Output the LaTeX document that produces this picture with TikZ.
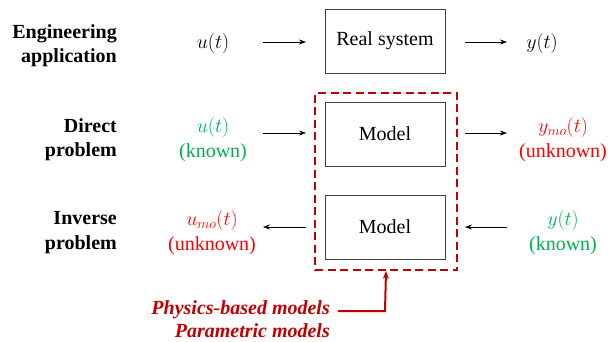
\documentclass[tikz,border=0pt]{standalone}
\usepackage{fix-cm}
\usepackage{fontspec}
\setmainfont{Liberation Serif}
\usetikzlibrary{arrows.meta}
\definecolor{kgreen}{RGB}{0,176,80}
\definecolor{kred}{RGB}{255,0,0}
\definecolor{dred}{RGB}{192,0,0}
\begin{document}
\begin{tikzpicture}[x=1pt,y=-1pt,
  every node/.style={font=\rmfamily\fontsize{20}{25}\selectfont, inner sep=0pt},
  lbl/.style={align=right, anchor=east, font=\rmfamily\fontsize{20}{24.5}\selectfont\bfseries},
  blk/.style={draw=black!75, line width=1pt, minimum width=120pt, minimum height=64pt},
  sig/.style={align=center},
  arr/.style={line width=0.6pt, -{Stealth[length=7pt,width=5pt]}},
  dbox/.style={draw=dred, line width=2pt, dash pattern=on 8pt off 4.5pt},
  darr/.style={draw=dred, line width=2pt, -{Stealth[length=8pt,width=6pt]}}]
\useasboundingbox (0,0) rectangle (608,341);
% row labels
\node[lbl] (l1) at (117,45.5) {Engineering\\application};
\node[lbl] (l2) at (117,139.5) {Direct\\problem};
\node[lbl] (l3) at (117,232.5) {Inverse\\problem};
% row 1
\node (u1) at (213,43) {$u(t)$};
\node[blk] (rs) at (385,41) {Real system};
\node (y1) at (542,43) {$y(t)$};
\coordinate (a1s) at (263,42); \coordinate (a1e) at (306,42);
\coordinate (a2s) at (465,42); \coordinate (a2e) at (507,42);
\draw[arr] (a1s) -- (a1e);
\draw[arr] (a2s) -- (a2e);
% row 2
\node[sig, text=kgreen] (u2) at (213,139.5) {$u(t)$\\(known)};
\node[blk] (m1) at (385,134) {Model};
\node[sig, text=kred] (y2) at (563,139.5) {$y_{mo}(t)$\\(unknown)};
\coordinate (b1s) at (263,133); \coordinate (b1e) at (306,133);
\coordinate (b2s) at (465,133); \coordinate (b2e) at (507,133);
\draw[arr] (b1s) -- (b1e);
\draw[arr] (b2s) -- (b2e);
% row 3
\node[sig, text=kred] (u3) at (212,233) {$u_{mo}(t)$\\(unknown)};
\node[blk] (m2) at (385,227) {Model};
\node[sig, text=kgreen] (y3) at (563,233) {$y(t)$\\(known)};
\coordinate (c1s) at (306,227); \coordinate (c1e) at (263,227);
\coordinate (c2s) at (507,227); \coordinate (c2e) at (465,227);
\draw[arr] (c1s) -- (c1e);
\draw[arr] (c2s) -- (c2e);
% dashed box
\node[dbox, minimum width=142pt, minimum height=177pt] (db) at (386,181.5) {};
% annotation
\node[align=right, anchor=east, text=dred, font=\rmfamily\fontsize{20}{23}\selectfont\bfseries\itshape] (pm) at (330,319) {Physics-based models\\Parametric models};
\coordinate (k1) at (338,311);
\coordinate (k2) at (385,311);
\draw[darr] (k1) -- (k2) -- (db.south);
\end{tikzpicture}
\end{document}
